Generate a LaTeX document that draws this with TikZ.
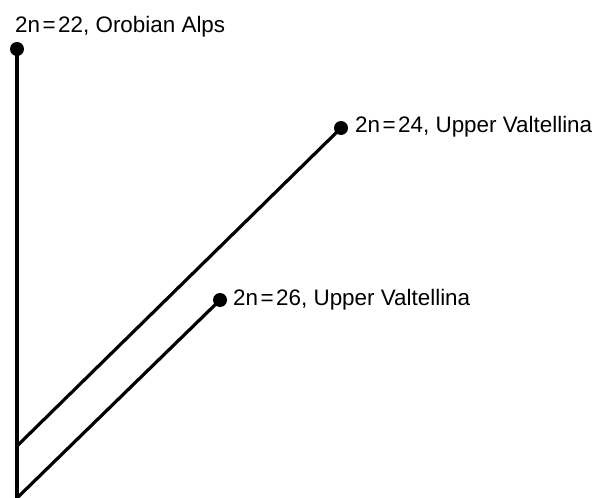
\documentclass[tikz,border=0pt]{standalone}
\usepackage{fontspec}
\setmainfont{Liberation Sans}
\newcommand{\eqsp}{\hspace{2.5bp}=\hspace{2.5bp}}
\begin{document}
\begin{tikzpicture}[x=1bp,y=-1bp,
  dot/.style={circle,fill=black,inner sep=0pt,minimum size=14bp},
  branch/.style={line width=3.2bp},
  lab/.style={font=\fontsize{22.5}{26}\selectfont, anchor=base west, inner sep=0pt}]
\useasboundingbox (0,0) rectangle (612,498);
\node[dot] (a) at (17,49) {};
\node[dot] (b) at (341,128) {};
\node[dot] (c) at (220,300) {};
\coordinate (bottom) at (17,502);
\coordinate (r1) at (17,446);
\coordinate (r2) at (17,498);
\draw[branch] (a.center) -- (bottom);
\draw[branch] (r1) -- (b.center);
\draw[branch] (r2) -- (c.center);
\node[lab] (la) at (15,33) {2n\eqsp22, Orobian Alps};
\node[lab] (lb) at (355,133) {2n\eqsp24, Upper Valtellina};
\node[lab] (lc) at (233,305) {2n\eqsp26, Upper Valtellina};
\end{tikzpicture}
\end{document}
